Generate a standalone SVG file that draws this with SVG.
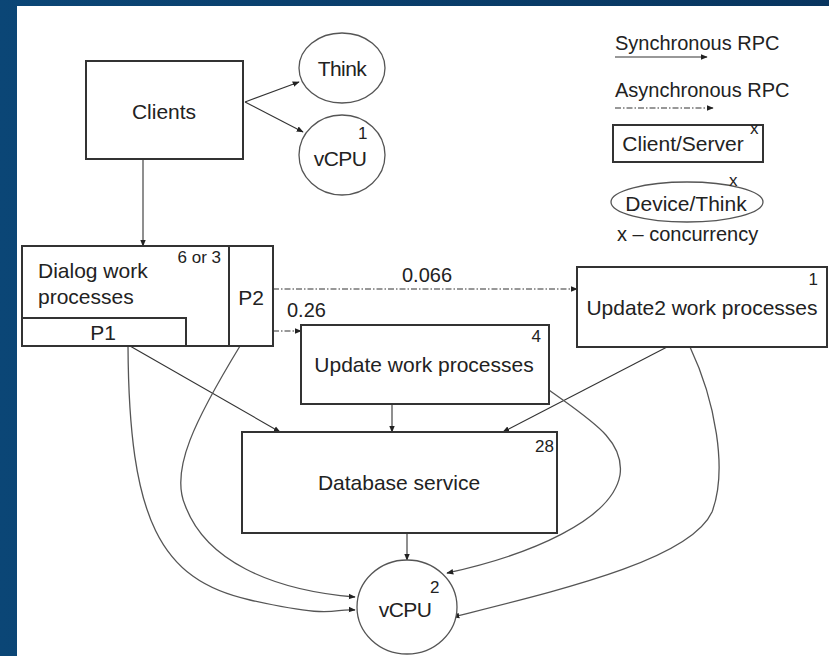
<svg xmlns="http://www.w3.org/2000/svg" width="829" height="656" viewBox="0 0 829 656">
<defs>
<linearGradient id="bg" x1="0" y1="0" x2="1" y2="0">
<stop offset="0" stop-color="#0b4676"/>
<stop offset="1" stop-color="#08355f"/>
</linearGradient>
<marker id="ah" viewBox="0 0 10 10" refX="9" refY="5" markerWidth="7" markerHeight="7" orient="auto" markerUnits="userSpaceOnUse">
<path d="M0,1 L10,5 L0,9 z" fill="#222"/>
</marker>
<style>
.box{fill:#fff;stroke:#333;stroke-width:2}
.ell{fill:#fff;stroke:#555;stroke-width:1.3}
.t{font-family:"Liberation Sans",Arial,sans-serif;font-size:21px;fill:#222}
.s{font-family:"Liberation Sans",Arial,sans-serif;font-size:17px;fill:#222}
.l{font-family:"Liberation Sans",Arial,sans-serif;font-size:20px;fill:#222}
.c{text-anchor:middle}
.e{text-anchor:end}
.ln{fill:none;stroke:#333;stroke-width:1.1}
.cv{fill:none;stroke:#555;stroke-width:1.3}
.da{fill:none;stroke:#777;stroke-width:1.3;stroke-dasharray:6 2 1.5 2}
</style>
</defs>
<rect x="0" y="0" width="829" height="656" fill="url(#bg)"/>
<rect x="17" y="6" width="812" height="650" fill="#fff"/>

<g id="connectors">
<line class="ln" x1="245" y1="102" x2="299" y2="82" marker-end="url(#ah)"/>
<line class="ln" x1="245" y1="102" x2="303" y2="132" marker-end="url(#ah)"/>
<line class="ln" x1="143" y1="160" x2="143" y2="246" marker-end="url(#ah)"/>
<line class="da" x1="273" y1="289" x2="577" y2="289" marker-end="url(#ah)"/>
<line class="da" x1="273" y1="331" x2="301" y2="331" marker-end="url(#ah)"/>
<line class="ln" x1="130" y1="346" x2="280" y2="432" marker-end="url(#ah)"/>
<line class="ln" x1="392" y1="404" x2="392" y2="432" marker-end="url(#ah)"/>
<line class="ln" x1="667" y1="347" x2="503" y2="432" marker-end="url(#ah)"/>
<line class="ln" x1="407" y1="533" x2="407" y2="560" marker-end="url(#ah)"/>
<path class="cv" d="M128,346 C129,520 160,580 250,600 S330,608 355,610" marker-end="url(#ah)"/>
<path class="cv" d="M240,346 C195,420 170,470 185,505 C205,560 270,590 355,597" marker-end="url(#ah)"/>
<path class="cv" d="M549,390 C590,420 625,440 620,475 C612,520 530,555 447,573" marker-end="url(#ah)"/>
<path class="cv" d="M690,347 C715,400 728,470 712,512 C690,560 560,590 453,617" marker-end="url(#ah)"/>
</g>

<g id="clients">
<rect class="box" x="86" y="61" width="157" height="98"/>
<text class="t c" x="164" y="119">Clients</text>
</g>
<g id="think">
<ellipse class="ell" cx="342" cy="68" rx="43" ry="35"/>
<text class="t c" x="342" y="76" letter-spacing="-0.6">Think</text>
</g>
<g id="vcpu1">
<ellipse class="ell" cx="342" cy="155" rx="43" ry="40"/>
<text class="t c" x="340" y="166" letter-spacing="-0.6">vCPU</text>
<text class="s" x="358" y="139">1</text>
</g>

<g id="dialog">
<rect class="box" x="22" y="246" width="251" height="100"/>
<line x1="229" y1="246" x2="229" y2="346" stroke="#333" stroke-width="2"/>
<rect class="box" x="22" y="318" width="164" height="28"/>
<text class="t" x="38" y="278">Dialog work</text>
<text class="t" x="38" y="304">processes</text>
<text class="s e" x="221" y="263">6 or 3</text>
<text class="t c" x="103" y="340">P1</text>
<text class="t c" x="251" y="305">P2</text>
</g>

<g id="update">
<rect class="box" x="301" y="325" width="248" height="79"/>
<text class="s e" x="541" y="342">4</text>
<text class="t c" x="424" y="372">Update work processes</text>
</g>

<g id="update2">
<rect class="box" x="577" y="267" width="250" height="80"/>
<text class="s e" x="818" y="285">1</text>
<text class="t c" x="702" y="315">Update2 work processes</text>
</g>

<g id="database">
<rect class="box" x="242" y="432" width="315" height="101"/>
<text class="s e" x="554" y="452">28</text>
<text class="t c" x="399" y="490">Database service</text>
</g>

<g id="vcpu2">
<ellipse class="ell" cx="407" cy="607" rx="50" ry="47"/>
<text class="t c" x="405" y="617" letter-spacing="-0.6">vCPU</text>
<text class="s" x="430" y="593">2</text>
</g>

<g id="labels">
<text class="l c" x="427" y="282">0.066</text>
<text class="l" x="287" y="317">0.26</text>
</g>

<g id="legend">
<text class="l" x="615" y="50">Synchronous RPC</text>
<line class="ln" x1="615" y1="57" x2="707" y2="57" marker-end="url(#ah)"/>
<text class="l" x="615" y="97">Asynchronous RPC</text>
<line class="da" x1="615" y1="108" x2="713" y2="108" marker-end="url(#ah)"/>
<rect class="box" x="613" y="125" width="150" height="37"/>
<text class="t c" x="683" y="151">Client/Server</text>
<text class="s" x="750" y="134">x</text>
<ellipse class="ell" cx="687" cy="202" rx="76" ry="20"/>
<text class="t c" x="686" y="211">Device/Think</text>
<text class="s" x="729" y="186" font-size="15">x</text>
<text class="l" x="617" y="241">x – concurrency</text>
</g>
</svg>
